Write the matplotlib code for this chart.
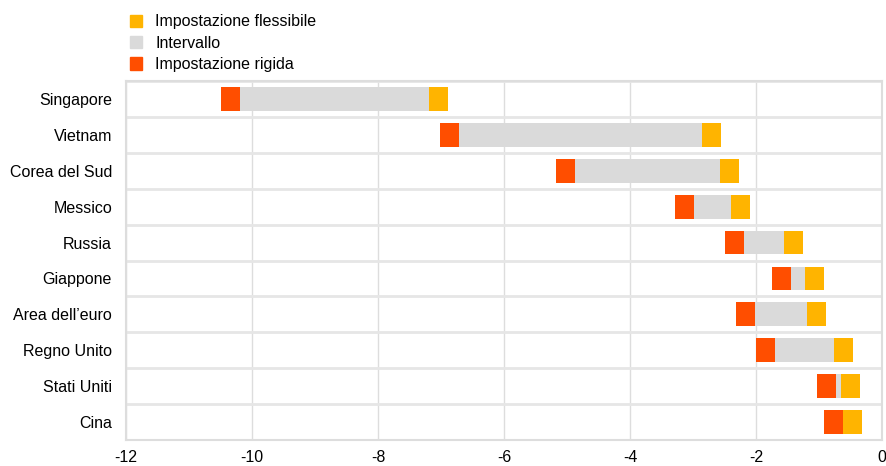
import numpy as np
import matplotlib.pyplot as plt
from matplotlib.patches import Patch

plt.rcParams['font.family'] = ['Liberation Sans', 'DejaVu Sans']

# valori
paesi = ['Singapore', 'Vietnam', 'Corea del Sud', 'Messico', 'Russia',
         'Giappone', "Area dell\u2019euro", 'Regno Unito', 'Stati Uniti', 'Cina']
rigida = [-10.19, -6.71, -4.88, -2.99, -2.19, -1.45, -2.02, -1.70, -0.73, -0.62]
flessibile = [-7.19, -2.86, -2.57, -2.40, -1.56, -1.23, -1.19, -0.77, -0.65, -0.62]
xticks = [-12, -10, -8, -6, -4, -2, 0]

c_rigida = '#ff4e00'
c_int = '#dadada'
c_fless = '#ffb400'
w = 0.3      # larghezza dei blocchi colorati
h = 0.66

fig = plt.figure(figsize=(8.86, 4.66), dpi=100)
ax = fig.add_axes([0.1422, 0.0564, 0.8536, 0.7691])

y = np.arange(len(paesi))
rig = np.array(rigida)
fle = np.array(flessibile)

ax.barh(y, fle - rig, left=rig, height=h, color=c_int, zorder=3)
ax.barh(y, w, left=rig - w, height=h, color=c_rigida, zorder=3)
ax.barh(y, w, left=fle, height=h, color=c_fless, zorder=3)

ax.set_xlim(-12, 0)
ax.set_ylim(len(paesi) - 0.5, -0.5)
ax.set_xticks(xticks)
ax.set_xticklabels([str(t) for t in xticks], fontsize=11.5)
ax.set_yticks(y)
ax.set_yticklabels(paesi, fontsize=11.5)
ax.tick_params(length=0, pad=10, axis='y')
ax.tick_params(length=0, pad=7.5, axis='x')

ax.set_yticks(np.arange(-0.5, len(paesi), 1), minor=True)
ax.tick_params(which='minor', length=0)
ax.grid(axis='x', color='#dddddd', lw=1, zorder=0)
ax.grid(axis='y', which='minor', color='#e6e6e6', lw=2, zorder=0)
ax.grid(axis='y', which='major', visible=False)
for s in ax.spines.values():
    s.set_color('#dddddd')
    s.set_linewidth(1.5)

handles = [Patch(color=c_fless), Patch(color=c_int), Patch(color=c_rigida)]
labels = ['Impostazione flessibile', 'Intervallo', 'Impostazione rigida']
fig.legend(handles, labels, loc='upper left', bbox_to_anchor=(0.130, 1.0),
           frameon=False, fontsize=11.5, handlelength=0.8, handleheight=0.8,
           handletextpad=0.8, labelspacing=0.4, borderaxespad=0.5)

fig.savefig('out.png', dpi=100)
